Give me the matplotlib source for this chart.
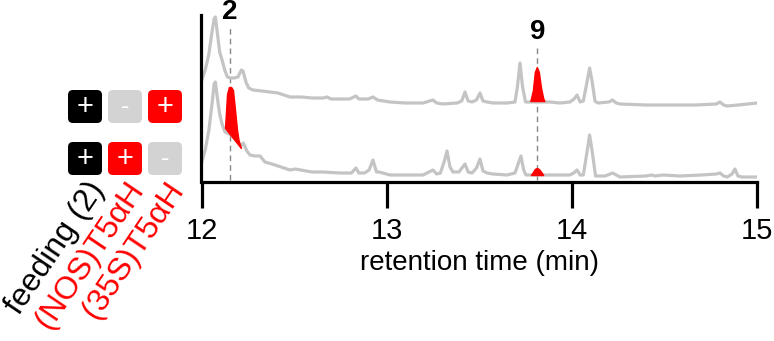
import matplotlib
matplotlib.use("Agg")
import matplotlib.pyplot as plt
import matplotlib.patches as patches
import matplotlib.transforms as mtransforms

plt.rcParams['font.family'] = ['Liberation Sans', 'DejaVu Sans']

# chromatogram traces (retention time in min, signal in arbitrary units)
time_upper = [12.000, 12.020, 12.040, 12.055, 12.068, 12.075, 12.085, 12.098, 12.111, 12.127,
              12.140, 12.154, 12.175, 12.197, 12.215, 12.224, 12.240, 12.255, 12.278, 12.327,
              12.370, 12.413, 12.478, 12.540, 12.597, 12.656, 12.678, 12.700, 12.748, 12.800,
              12.834, 12.850, 12.900, 12.926, 12.950, 13.018, 13.100, 13.196, 13.250, 13.270,
              13.304, 13.380, 13.405, 13.423, 13.440, 13.461, 13.485, 13.504, 13.520, 13.542,
              13.574, 13.650, 13.693, 13.706, 13.720, 13.734, 13.750, 13.779, 13.852, 13.882,
              13.936, 13.990, 14.012, 14.028, 14.045, 14.062, 14.082, 14.096, 14.110, 14.125,
              14.140, 14.200, 14.220, 14.240, 14.260, 14.400, 14.580, 14.670, 14.780, 14.800,
              14.820, 14.838, 14.900, 15.000]
signal_upper = [101, 112, 128, 148, 163, 165, 150, 130, 122, 111,
                105, 104, 104, 105, 112, 111, 100, 94, 92, 91,
                90, 89, 85, 85, 84, 84, 85, 83, 83, 83,
                86, 83, 83, 85, 82, 80, 79, 79, 82, 79,
                78, 79, 81, 90, 81, 80, 82, 89, 81, 80,
                79, 79, 80, 95, 119, 95, 80, 80, 80, 80,
                79, 80, 83, 87, 80, 81, 100, 114, 100, 81,
                79, 80, 82, 79, 78, 77, 77, 77, 78, 80,
                77, 76, 77, 79]

time_lower = [12.000, 12.020, 12.040, 12.058, 12.068, 12.075, 12.085, 12.098, 12.111, 12.127,
              12.160, 12.190, 12.213, 12.226, 12.245, 12.262, 12.289, 12.316, 12.343, 12.380,
              12.413, 12.478, 12.505, 12.597, 12.656, 12.748, 12.810, 12.834, 12.850, 12.880,
              12.905, 12.926, 12.945, 12.960, 13.018, 13.100, 13.196, 13.250, 13.270, 13.290,
              13.310, 13.326, 13.342, 13.358, 13.390, 13.423, 13.440, 13.461, 13.485, 13.504,
              13.520, 13.542, 13.574, 13.650, 13.693, 13.710, 13.725, 13.740, 13.752, 13.779,
              13.852, 13.900, 13.990, 14.010, 14.028, 14.045, 14.062, 14.082, 14.096, 14.112,
              14.128, 14.180, 14.220, 14.260, 14.400, 14.433, 14.450, 14.492, 14.584, 14.700,
              14.780, 14.800, 14.820, 14.840, 14.865, 14.881, 14.897, 14.918, 15.000]
signal_lower = [19, 32, 52, 80, 98, 100, 85, 68, 58, 50,
                47, 42, 36, 39, 31, 27, 26, 26, 20, 18,
                16, 12, 13, 10, 10, 9, 9, 14, 9, 9,
                12, 22, 10, 10, 7, 7, 7, 12, 8, 9,
                20, 31, 15, 10, 10, 18, 10, 9, 14, 23,
                11, 9, 8, 7, 9, 18, 26, 12, 7, 7,
                7, 7, 7, 9, 12, 7, 7, 30, 47, 28,
                6, 6, 9, 5, 6, 7, 6, 7, 6, 7,
                8, 9, 6, 5, 8, 13, 6, 5, 5]

# highlighted product peaks
peak2_time = [12.127, 12.138, 12.148, 12.160, 12.170, 12.181, 12.192, 12.200, 12.213]
peak2_top = [54, 88, 95, 95, 92, 72, 52, 42, 34]
peak2_base = [54, 51.4, 49.1, 46.3, 44, 41.4, 38.9, 37, 34]

peak9u_time = [13.776, 13.790, 13.800, 13.811, 13.822, 13.833, 13.845, 13.852]
peak9u_top = [81, 92, 110, 115, 110, 95, 84, 81]
peak9l_time = [13.779, 13.790, 13.800, 13.811, 13.822, 13.835, 13.845]
peak9l_top = [7, 10, 13, 14, 13, 10, 7]

markers = {'2': 12.154, '9': 13.813}

# construct table: rows = upper trace, lower trace
row_labels = ['feeding (2)', '(NOS)T5αH', '(35S)T5αH']
row_colors = ['black', 'red', 'red']
upper_signs = ['+', '-', '+']
lower_signs = ['+', '+', '-']

W, H = 774, 341
fig = plt.figure(figsize=(W / 100, H / 100), dpi=100)
ax = fig.add_axes([201.5 / W, 1 - 182 / H, (757 - 201.5) / W, (182 - 15) / H])

grey = '#c4c4c4'
ax.plot(time_upper, signal_upper, color=grey, lw=2.3, solid_joinstyle='round', zorder=2)
ax.plot(time_lower, signal_lower, color=grey, lw=2.3, solid_joinstyle='round', zorder=2)

ax.fill_between(peak2_time, peak2_base, peak2_top, color='red', lw=1, ec='red', zorder=3)
ax.fill_between(peak9u_time, peak9u_top[0], peak9u_top, color='red', lw=1, ec='red', zorder=3)
ax.fill_between(peak9l_time, peak9l_top[0], peak9l_top, color='red', lw=1, ec='red', zorder=3)

ax.plot([markers['2']] * 2, [2, 154], color='#888888', lw=1, ls=(0, (4, 3)), zorder=1)
ax.plot([markers['9']] * 2, [2, 137], color='#888888', lw=1, ls=(0, (4, 3)), zorder=1)
ax.text(markers['2'], 170, '2', ha='center', va='center', fontsize=20, fontweight='bold')
ax.text(markers['9'], 150, '9', ha='center', va='center', fontsize=20, fontweight='bold')

ax.set_xlim(12, 15)
ax.set_ylim(0, 167)
ax.set_xticks([12, 13, 14, 15])
ax.set_yticks([])
for s in ['top', 'right']:
    ax.spines[s].set_visible(False)
for s in ['left', 'bottom']:
    ax.spines[s].set_linewidth(2.3)
ax.tick_params(axis='x', length=19, width=2.3, pad=6, labelsize=21)
ax.set_xlabel('retention time (min)', fontsize=20, labelpad=4)

# pixel transform (top-left origin)
pix = mtransforms.Affine2D().scale(1 / W, -1 / H).translate(0, 1) + fig.transFigure

col_x = [85, 125, 165]
row_y = [106.5, 158.5]
bw, bh = 34, 33
for r, signs in enumerate([upper_signs, lower_signs]):
    for c, sgn in enumerate(signs):
        fc = row_colors[c] if sgn == '+' else '#d3d3d3'
        box = patches.FancyBboxPatch((col_x[c] - bw / 2 + 5, row_y[r] - bh / 2 + 5), bw - 10, bh - 10,
                                     boxstyle='round,pad=5', fc=fc, ec='none',
                                     transform=pix, figure=fig)
        fig.patches.append(box)
        fig.text(col_x[c], row_y[r], sgn, transform=pix, color='white',
                 ha='center', va='center', fontsize=21 if sgn == '+' else 18)

for c, lab in enumerate(row_labels):
    fig.text(col_x[c] + 13, 185, lab, transform=pix, color=row_colors[c],
             rotation=56, rotation_mode='anchor', ha='right', va='center', fontsize=23)

fig.savefig('out.png', dpi=100)
